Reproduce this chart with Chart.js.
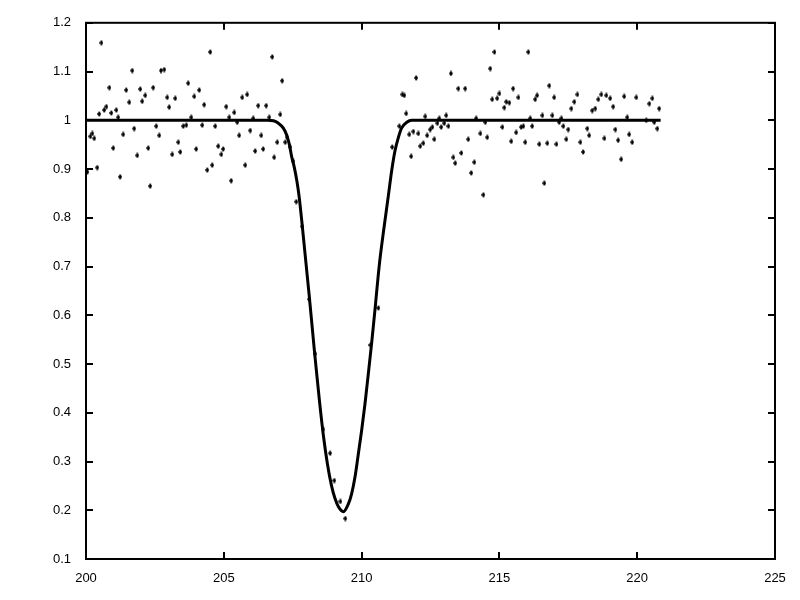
<!DOCTYPE html>
<html>
<head>
<meta charset="utf-8">
<script src="https://cdn.jsdelivr.net/npm/chart.js@4.4.1/dist/chart.umd.min.js"></script>
<style>
  html, body { margin: 0; padding: 0; background: #fff; }
  canvas { display: block; }
</style>
</head>
<body>
<canvas id="chart" width="800" height="600"></canvas>
<script>
const obsTime = [
  200.56, 201.68, 202.72, 202.84, 200.85, 201.46, 201.97, 202.44, 202.15, 201.57,
  202.04, 202.95, 203.02, 200.74, 200.66, 200.48, 200.92, 201.10, 201.17,
  200.23, 200.16, 200.30, 201.75, 201.35, 202.55, 202.66, 200.99, 202.26, 201.86,
  203.13, 200.41, 200.05, 201.24, 202.33,
  204.51, 203.71, 204.11, 203.24, 203.93, 204.29, 203.82, 205.09, 205.38, 205.20,
  205.67, 205.85, 206.25, 206.07, 203.53, 203.64, 204.22, 204.69, 205.49, 205.96,
  205.56, 206.36, 203.35, 203.42, 204.00, 204.80, 204.98, 204.91, 206.14, 206.43,
  204.58, 204.40, 205.78, 205.27,
  206.76, 207.12, 206.54, 207.05, 206.65, 206.94, 207.23, 207.30, 206.83, 207.41, 207.52,
  207.63, 207.85, 208.10, 208.32, 208.61, 208.86, 209.01, 209.23, 209.41, 210.61, 210.32,
  211.98, 211.48, 211.55, 211.62, 213.24, 213.51, 213.76, 211.11, 211.37, 211.73,
  211.88, 212.06, 211.80, 212.13, 212.24, 212.31, 212.38, 212.49, 212.57, 212.64,
  212.75, 212.82, 212.89, 213.00, 213.07, 213.15, 213.33, 213.40, 213.62, 213.87,
  213.98, 214.09,
  214.82, 216.05, 214.67, 214.74, 214.92, 215.00, 215.18, 215.25, 215.36, 215.50,
  215.69, 216.30, 216.37, 216.81, 216.99, 216.56, 216.92, 216.12, 217.25, 214.16,
  214.49, 215.11, 215.79, 215.87, 216.19, 217.17, 217.32, 214.31, 214.56, 215.61,
  215.43, 215.94, 216.45, 216.74, 217.07, 216.63, 214.42,
  217.83, 217.72, 217.61, 218.37, 218.48, 218.59, 218.70, 218.88, 219.02, 219.13,
  219.53, 219.97, 220.44, 220.55, 220.80, 219.64, 220.33, 220.62, 217.50, 218.19,
  219.21, 220.73, 217.43, 218.26, 218.81, 219.31, 219.71, 219.82, 217.94, 218.04,
  219.42
];
const obsFlux = [
  1.159, 1.102, 1.102, 1.104, 1.067, 1.062, 1.064, 1.067, 1.051, 1.037,
  1.039, 1.047, 1.027, 1.028, 1.021, 1.013, 1.015, 1.021, 1.006,
  0.973, 0.967, 0.963, 0.983, 0.971, 0.988, 0.969, 0.943, 0.943, 0.928,
  0.930, 0.903, 0.894, 0.884, 0.865,
  1.140, 1.076, 1.062, 1.045, 1.049, 1.032, 1.006, 1.028, 1.016, 1.006,
  1.047, 1.053, 1.030, 1.004, 0.988, 0.990, 0.990, 0.988, 0.996, 0.979,
  0.969, 0.969, 0.955, 0.935, 0.941, 0.947, 0.941, 0.930, 0.937, 0.941,
  0.908, 0.898, 0.908, 0.876,
  1.130, 1.081, 1.030, 1.012, 1.006, 0.955, 0.955, 0.965, 0.924, 0.945, 0.916,
  0.833, 0.782, 0.633, 0.521, 0.366, 0.317, 0.261, 0.218, 0.183, 0.615, 0.539,
  1.087, 1.053, 1.051, 1.014, 1.096, 1.065, 1.065, 0.945, 0.988, 0.971,
  0.977, 0.973, 0.926, 0.947, 0.953, 1.008, 0.969, 0.981, 0.986, 0.961,
  0.994, 1.004, 0.986, 0.994, 1.010, 0.988, 0.924, 0.912, 0.933, 0.961,
  0.892, 0.914,
  1.140, 1.140, 1.106, 1.043, 1.045, 1.055, 1.026, 1.038, 1.036, 1.065,
  1.047, 1.043, 1.051, 1.071, 1.047, 1.010, 1.010, 1.004, 1.004, 1.004,
  0.996, 0.986, 0.986, 0.988, 0.988, 0.996, 0.988, 0.973, 0.965, 0.975,
  0.957, 0.955, 0.951, 0.953, 0.951, 0.871, 0.847,
  1.053, 1.038, 1.024, 1.020, 1.024, 1.043, 1.053, 1.051, 1.045, 1.028,
  1.049, 1.047, 1.034, 1.045, 1.024, 1.006, 1.000, 0.996, 0.981, 0.983,
  0.981, 0.983, 0.961, 0.969, 0.963, 0.959, 0.971, 0.955, 0.955, 0.935,
  0.920
];

// model curve
const fitTime = [
  200.00, 206.60, 206.80, 206.98, 207.16, 207.28, 207.38, 207.46, 207.56, 207.65,
  207.73, 207.85, 208.10, 208.30, 208.47, 208.61, 208.76, 208.91, 209.03, 209.16,
  209.34, 209.52, 209.64, 209.76, 209.88, 210.00, 210.12, 210.24, 210.37, 210.49,
  210.64, 210.79, 210.97, 211.09, 211.21, 211.33, 211.45, 211.64, 211.82, 220.85
];
const fitFlux = [
  1.000, 1.000, 0.999, 0.994, 0.984, 0.970, 0.950, 0.926, 0.903, 0.876,
  0.845, 0.782, 0.640, 0.520, 0.425, 0.355, 0.295, 0.250, 0.225, 0.207,
  0.197, 0.213, 0.234, 0.268, 0.315, 0.363, 0.417, 0.478, 0.546, 0.614,
  0.702, 0.770, 0.845, 0.896, 0.937, 0.964, 0.984, 0.996, 1.000, 1.000
];

const xMin = 200, xMax = 225, xStep = 5;
const yMin = 0.1, yMax = 1.2, yStep = 0.1;

const obsPoints = obsTime.map((t, i) => ({ x: t, y: obsFlux[i] }));
const fitPoints = fitTime.map((t, i) => ({ x: t, y: fitFlux[i] }));

// small upright diamond marker
const marker = document.createElement("canvas");
marker.width = 4;
marker.height = 6;
const mctx = marker.getContext("2d");
mctx.fillStyle = "#000";
mctx.beginPath();
mctx.moveTo(2, 0);
mctx.lineTo(4, 3);
mctx.lineTo(2, 6);
mctx.lineTo(0, 3);
mctx.closePath();
mctx.fill();

// frame with inward tick marks on all four sides
const framePlugin = {
  id: "frame",
  afterDatasetsDraw(chart) {
    const { ctx, chartArea: a, scales } = chart;
    const len = 7;
    ctx.save();
    ctx.strokeStyle = "#000";
    ctx.lineWidth = 2;
    ctx.beginPath();
    scales.y.ticks.forEach((t) => {
      const py = Math.round(scales.y.getPixelForValue(t.value));
      ctx.moveTo(a.left, py);
      ctx.lineTo(a.left + len, py);
      ctx.moveTo(a.right, py);
      ctx.lineTo(a.right - len, py);
    });
    scales.x.ticks.forEach((t) => {
      const px = Math.round(scales.x.getPixelForValue(t.value));
      ctx.moveTo(px, a.bottom);
      ctx.lineTo(px, a.bottom - len);
      ctx.moveTo(px, a.top);
      ctx.lineTo(px, a.top + len);
    });
    ctx.stroke();
    ctx.strokeRect(a.left, a.top, a.right - a.left, a.bottom - a.top);
    ctx.restore();
  },
};

const tickFont = { family: "'Liberation Sans', Arial, sans-serif", size: 13 };

const canvas = document.getElementById("chart");
const ctx = canvas.getContext("2d");
new Chart(ctx, {
  type: "scatter",
  data: {
    datasets: [
      {
        label: "fit",
        data: fitPoints,
        showLine: true,
        borderColor: "#000",
        borderWidth: 3,
        pointRadius: 0,
        cubicInterpolationMode: "monotone",
        order: 2,
      },
      {
        label: "data",
        data: obsPoints,
        pointStyle: marker,
        pointRadius: 2,
        backgroundColor: "#000",
        borderColor: "#000",
        order: 1,
      },
    ],
  },
  options: {
    responsive: false,
    animation: false,
    layout: { padding: { top: 19, right: 25, left: 0, bottom: 0 } },
    plugins: {
      legend: { display: false },
      tooltip: { enabled: false },
    },
    scales: {
      x: {
        type: "linear",
        min: xMin,
        max: xMax,
        grid: { display: false, drawTicks: false },
        border: { display: false },
        ticks: {
          stepSize: xStep,
          color: "#000",
          font: tickFont,
          padding: 12,
          maxRotation: 0,
        },
        afterFit(scale) {
          scale.height = 41;
        },
      },
      y: {
        type: "linear",
        min: yMin,
        max: yMax,
        grid: { display: false, drawTicks: false },
        border: { display: false },
        ticks: {
          stepSize: yStep,
          color: "#000",
          font: tickFont,
          padding: 15,
          callback: (v) => String(parseFloat(v.toFixed(1))),
        },
        afterFit(scale) {
          scale.width = 86;
        },
      },
    },
  },
  plugins: [framePlugin],
});
</script>
</body>
</html>
